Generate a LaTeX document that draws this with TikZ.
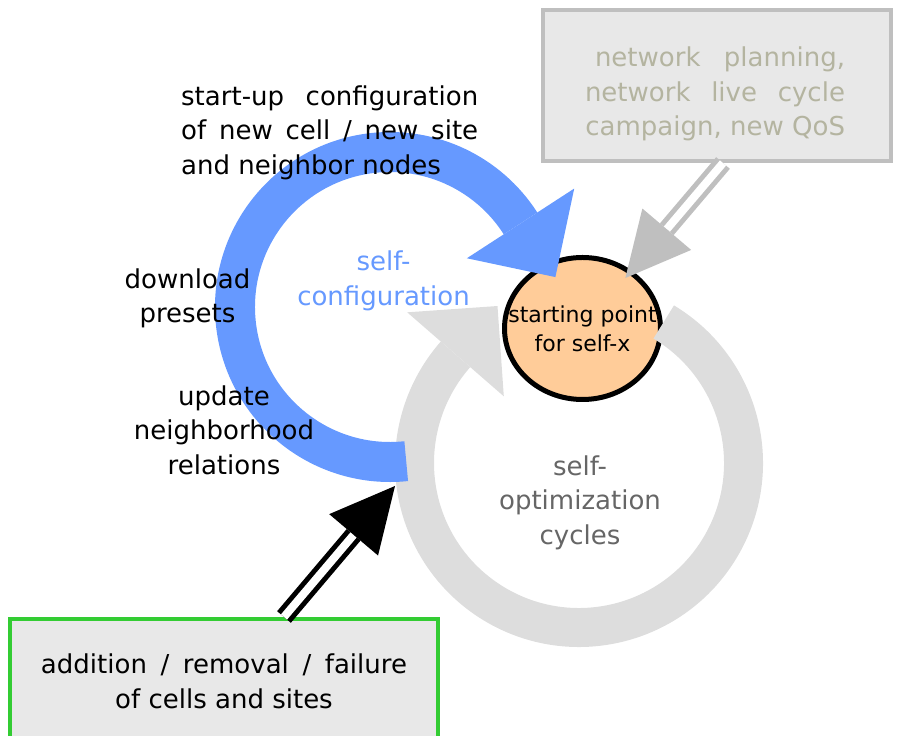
\documentclass[tikz,border=0pt]{standalone}
\usepackage{fontspec}
\setmainfont{DejaVu Sans}
\usetikzlibrary{arrows.meta,shapes.geometric}
\definecolor{cfgblue}{RGB}{102,153,255}
\definecolor{optgray}{RGB}{221,221,221}
\definecolor{opttext}{RGB}{102,102,102}
\definecolor{startfill}{RGB}{255,204,153}
\definecolor{boxfill}{RGB}{232,232,232}
\definecolor{planline}{RGB}{191,191,191}
\definecolor{plantext}{RGB}{180,180,160}
\definecolor{addline}{RGB}{51,204,51}
\begin{document}
\begin{tikzpicture}[x=1pt,y=1pt]
\tikzstyle{box_style} = [rectangle, line width=4pt, fill=boxfill, inner sep=0pt]
\tikzstyle{text_style} = [inner sep=0pt, align=center, font=\fontsize{26}{34.5}\selectfont]
\tikzstyle{ring_style} = [-{Triangle[length=64pt, width=128pt, line width=0pt]}]
\tikzstyle{double_style} = [double=white, double distance=8pt, line width=5pt, -{Triangle[length=64pt, width=64pt, line width=0pt]}]
    \useasboundingbox (0,0) rectangle (898,736);

    \node[box_style, draw=planline, minimum width=348pt, minimum height=151pt] (plan) at (717,650.5) {};
    \node[box_style, draw=addline, minimum width=428pt, minimum height=125pt, text_style] (addbox) at (224,54.5)
        {\makebox[366pt][s]{addition / removal / failure}\\of cells and sites};
    \node[ellipse, draw=black, line width=5pt, fill=startfill, minimum width=156pt, minimum height=142pt, inner sep=0pt] (selfx) at (582.5,407.5) {};

    \coordinate (cfg) at (390,429);
    \coordinate (opt) at (579,273);
    \coordinate (entry) at (395,250);

    % self-optimization ring
    \draw[ring_style, optgray, line width=39pt] ([shift={(59:164.5)}]opt) arc[start angle=59, end angle=-221, radius=164.5] -- ++(49:65);
    % self-configuration arc
    \draw[ring_style, cfgblue, line width=40pt] ([shift={(276:155)}]cfg) arc[start angle=276, end angle=33, radius=155] -- ++(-57:65);

    \draw[double_style, planline, shorten >=-10pt] ([xshift=6pt]plan.south) -- (selfx);
    \draw[double_style, black] ([xshift=60pt]addbox.north) -- (entry);

    \node[inner sep=0pt, align=center, font=\fontsize{22}{29}\selectfont] (selfxtxt) at (selfx) {starting point\\for self-x};
    \node[text_style, plantext, align=right] (plantxt) at ([shift={(-2,-8.5)}]plan.center)
        {\makebox[250pt][s]{network planning,}\\\makebox[260pt][s]{network live cycle}\\campaign, new QoS};
    \node[text_style, anchor=west, align=left] (startup) at (181,603.5)
        {\makebox[297pt][s]{start-up configuration}\\\makebox[297pt][s]{of new cell / new site}\\and neighbor nodes};
    \node[text_style] (download) at (187.5,437.5) {download\\presets};
    \node[text_style] (update) at (224,306) {update\\neighborhood\\relations};
    \node[text_style, cfgblue] (cfgtxt) at (383.5,455) {self-\\configuration};
    \node[text_style, opttext] (opttxt) at (580,233.5) {self-\\optimization\\cycles};
\end{tikzpicture}
\end{document}
